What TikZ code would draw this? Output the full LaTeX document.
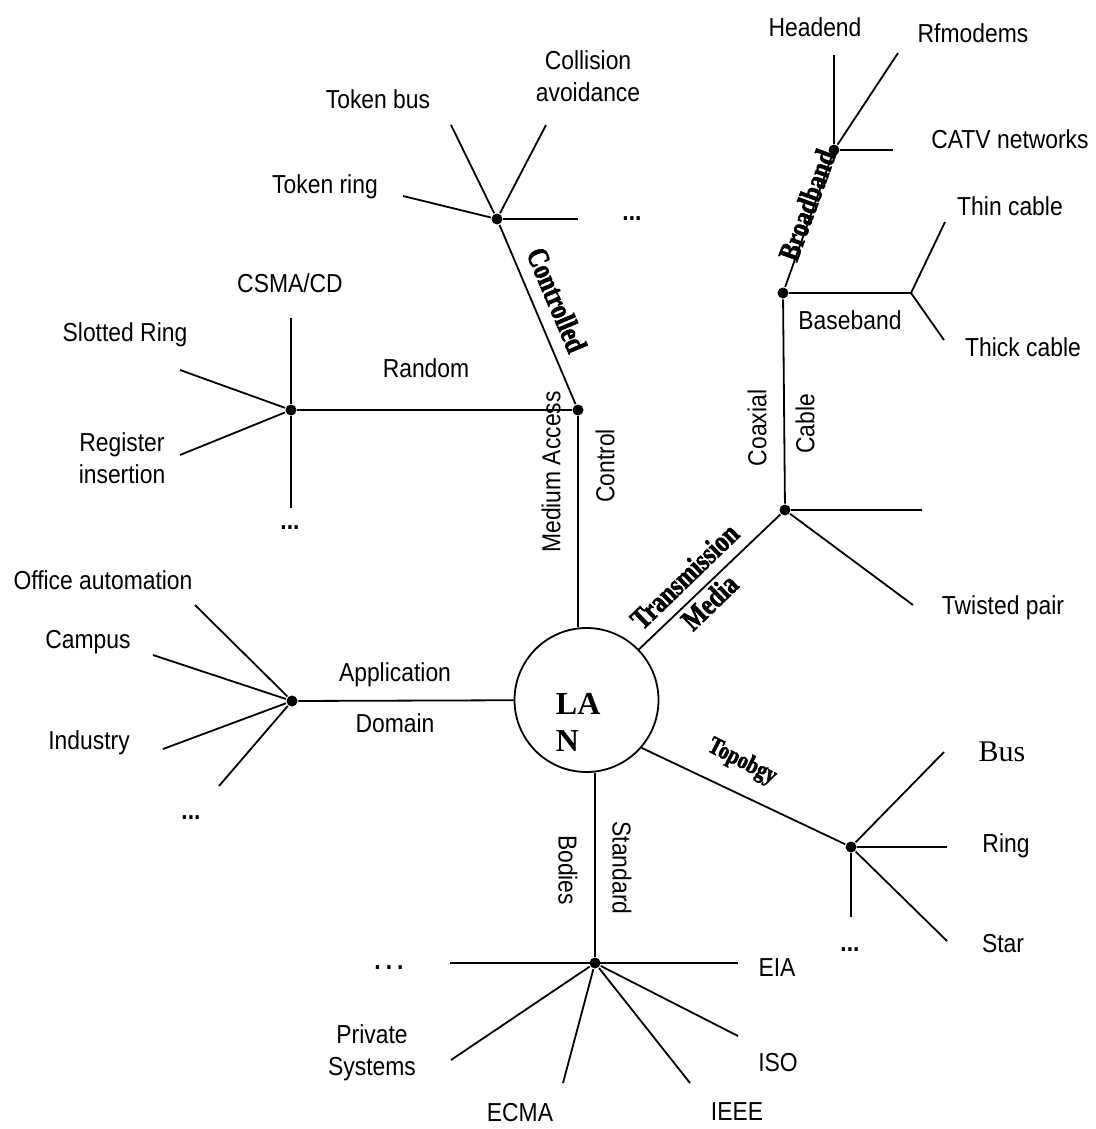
\documentclass[tikz,border=0pt]{standalone}
\usepackage{fontspec}
\setmainfont{Liberation Sans}[FakeStretch=0.88]
\newfontfamily\serifb{Liberation Serif}[FakeStretch=0.8,BoldFeatures={FakeBold=2}]
\newfontfamily\serifr{Liberation Serif}
\begin{document}
\begin{tikzpicture}[x=1pt,y=-1pt,line width=1.8pt,
  lbl/.style={font=\fontsize{26}{32}\selectfont,inner sep=0pt,align=center},
  bl/.style={font=\serifb\bfseries\fontsize{30}{36}\selectfont,inner sep=0pt,align=center},
  junc/.style={circle,fill,inner sep=0pt,minimum size=11pt},
  ell/.style={font=\bfseries\fontsize{26}{30}\selectfont,inner sep=0pt}]
\useasboundingbox (0,0) rectangle (1095,1129);

% LAN
\node[draw,circle,minimum size=144pt,inner sep=0pt] (lan) at (586.5,700) {};
\node[font=\serifr\bfseries\fontsize{32}{37}\selectfont,align=left,anchor=north west,inner sep=0pt] (lantext) at (555,692) {LA\\N};

% junctions
\node[junc] (ma) at (578,410) {};
\node[junc] (rnd) at (291,410) {};
\node[junc] (ctl) at (497,219) {};
\node[junc] (tm) at (785,510) {};
\node[junc] (cx) at (783,293) {};
\node[junc] (bb) at (834,150) {};
\node[junc] (ad) at (292,701) {};
\node[junc] (tp) at (851,847) {};
\node[junc] (sb) at (595,963) {};

% free ends
\coordinate (csmaE) at (291,318);
\coordinate (rdotsE) at (291,508);
\coordinate (slotE) at (180,370);
\coordinate (regE) at (180,455);
\coordinate (tbusE) at (451,125);
\coordinate (collE) at (546,125);
\coordinate (tringE) at (403,196);
\coordinate (cdotsE) at (578,219);
\coordinate (twE) at (913,605);
\coordinate (tmhE) at (922,510);
\coordinate (bbh) at (911,293);
\coordinate (thinE) at (945,222);
\coordinate (thickE) at (944,340);
\coordinate (headE) at (834,55);
\coordinate (rfE) at (898,53);
\coordinate (catvE) at (893,150);
\coordinate (offE) at (195,605);
\coordinate (campE) at (153,655);
\coordinate (indE) at (163,749);
\coordinate (adotsE) at (219,786);
\coordinate (busE) at (944,752);
\coordinate (ringE) at (947,847);
\coordinate (starE) at (947,941);
\coordinate (tdotsE) at (851,917);
\coordinate (eiaE) at (738,963);
\coordinate (sdotsE) at (450,963);
\coordinate (isoE) at (738,1036);
\coordinate (ieeeE) at (690,1083);
\coordinate (ecmaE) at (563,1083);
\coordinate (privE) at (451,1060);

% main branches
\draw (ma) -- (ma |- lan.north);
\draw (lan) -- (ad);
\draw (lan.44) -- (tm);
\draw (lan.-41) -- (tp);
\draw (sb) -- (sb |- lan.south);

% medium access
\draw (ma) -- (rnd);
\draw (ma) -- (ctl);
\draw (rnd) -- (csmaE);
\draw (rnd) -- (rdotsE);
\draw (rnd) -- (slotE);
\draw (rnd) -- (regE);
\draw (ctl) -- (tbusE);
\draw (ctl) -- (collE);
\draw (ctl) -- (tringE);
\draw (ctl) -- (cdotsE);

% transmission media
\draw (tm) -- (twE);
\draw (tm) -- (tmhE);
\draw (tm) -- (cx);
\draw (cx) -- (bbh);
\draw (bbh) -- (thinE);
\draw (bbh) -- (thickE);
\draw (cx) -- (bb);
\draw (bb) -- (headE);
\draw (bb) -- (rfE);
\draw (bb) -- (catvE);

% application domain
\draw (ad) -- (offE);
\draw (ad) -- (campE);
\draw (ad) -- (indE);
\draw (ad) -- (adotsE);

% topology
\draw (tp) -- (busE);
\draw (tp) -- (ringE);
\draw (tp) -- (starE);
\draw (tp) -- (tdotsE);

% standard bodies
\draw (sdotsE) -- (eiaE);
\draw (sb) -- (isoE);
\draw (sb) -- (ieeeE);
\draw (sb) -- (ecmaE);
\draw (sb) -- (privE);

% labels
\node[lbl,rotate=90] (lmedacc) at (551,472) {Medium Access};
\node[lbl,rotate=90] (lcontrol) at (605,466) {Control};
\node[lbl] (lrandom) at (426,368) {Random};
\node[lbl] (lcsma) at (290,283) {CSMA/CD};
\node[lbl] (lslot) at (125,335) {Slotted Ring};
\node[lbl] (lreg) at (122,458) {Register\\insertion};
\node[ell] (lrdots) at (290,528) {...};
\node[bl,rotate=-67] (lctl) at (557,300) {Controlled};
\node[lbl] (ltbus) at (378,99) {Token bus};
\node[lbl] (lcoll) at (588,76) {Collision\\avoidance};
\node[lbl] (ltring) at (325,187) {Token ring};
\node[ell] (lcdots) at (632,219) {...};

\node[bl,rotate=44] (ltm) at (697,589) {Transmission\\Media};
\node[lbl,rotate=90] (lcoax) at (757,428) {Coaxial};
\node[lbl,rotate=90] (lcable) at (805,424) {Cable};
\node[lbl] (ltw) at (1003,608) {Twisted pair};
\node[lbl] (lbase) at (850,320) {Baseband};
\node[lbl] (lthin) at (1010,206) {Thin cable};
\node[lbl] (lthick) at (1023,347) {Thick cable};
\node[bl,rotate=70] (lbroad) at (807,205) {Broadband};
\node[lbl] (lhead) at (815,27) {Headend};
\node[lbl] (lrf) at (973,33) {Rfmodems};
\node[lbl] (lcatv) at (1010,139) {CATV networks};

\node[lbl] (lapp) at (395,675) {Application};
\node[lbl] (ldom) at (395,723) {Domain};
\node[lbl] (loff) at (103,580) {Office automation};
\node[lbl] (lcamp) at (88,642) {Campus};
\node[lbl] (lind) at (89,743) {Industry};
\node[ell] (ladots) at (191,818) {...};

\node[bl,font=\serifb\bfseries\fontsize{25}{28}\selectfont,rotate=-27] (ltopo) at (742,762) {Topobgy};
\node[lbl,font=\serifr\fontsize{30}{34}\selectfont] (lbus) at (1002,752) {Bus};
\node[lbl] (lring) at (1006,846) {Ring};
\node[lbl] (lstar) at (1003,944) {Star};
\node[ell] (ltdots) at (850,950) {...};

\node[lbl,rotate=-90] (lbodies) at (568,870) {Bodies};
\node[lbl,rotate=-90] (lstd) at (622,868) {Standard};
\node[ell] (lsdots) at (389,968) {.\hspace{5pt}.\hspace{5pt}.};
\node[lbl] (leia) at (777,968) {EIA};
\node[lbl] (liso) at (778,1063) {ISO};
\node[lbl] (lieee) at (737,1112) {IEEE};
\node[lbl] (lecma) at (520,1113) {ECMA};
\node[lbl] (lpriv) at (372,1053) {Private\\Systems};
\end{tikzpicture}
\end{document}
